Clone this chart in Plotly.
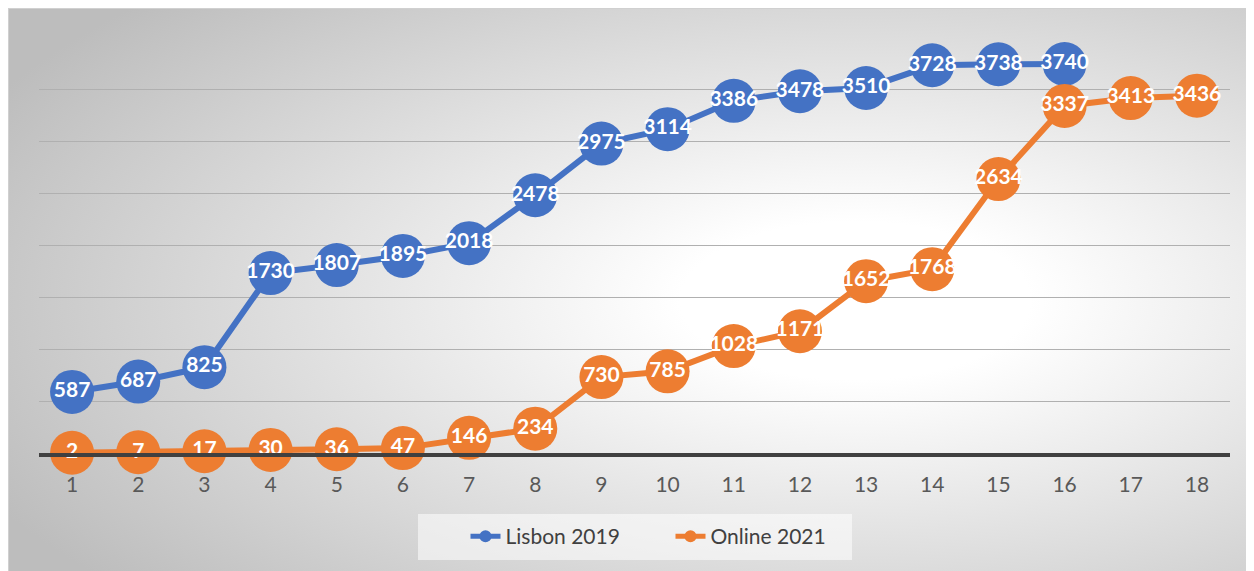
import base64
import plotly.graph_objects as go

rounds = list(range(1, 19))
lisbon_2019 = [587, 687, 825, 1730, 1807, 1895, 2018, 2478, 2975, 3114, 3386, 3478, 3510, 3728, 3738, 3740]
online_2021 = [2, 7, 17, 30, 36, 47, 146, 234, 730, 785, 1028, 1171, 1652, 1768, 2634, 3337, 3413, 3436]

BLUE = "#4472C4"
ORANGE = "#ED7D31"
FONT = "Lato, Carlito, 'Liberation Sans', sans-serif"

# page body has an 8px margin; figure origin lands at page (8, 8)
W, H = 1246, 563
ML, MR, MT, MB = 31, 24, 29, 118
PW, PH = W - ML - MR, H - MT - MB

bg_svg = """<svg xmlns='http://www.w3.org/2000/svg' width='1246' height='563' viewBox='0 0 1246 563' preserveAspectRatio='none'>
<defs><radialGradient id='g' cx='0.68' cy='0.52' r='0.78' fx='0.68' fy='0.52'>
<stop offset='0' stop-color='#ffffff'/>
<stop offset='0.18' stop-color='#ffffff'/>
<stop offset='1' stop-color='#bdbdbd'/>
</radialGradient></defs>
<rect x='0' y='0' width='1246' height='563' fill='url(#g)'/>
<rect x='0.5' y='0.5' width='1250' height='570' fill='none' stroke='#d0d0d0' stroke-width='1'/>
</svg>"""
bg_uri = "data:image/svg+xml;base64," + base64.b64encode(bg_svg.encode()).decode()

legend_svg = """<svg xmlns='http://www.w3.org/2000/svg' width='434' height='46'>
<rect x='0' y='0' width='434' height='46' fill='#ffffff' fill-opacity='0.55'/></svg>"""
legend_uri = "data:image/svg+xml;base64," + base64.b64encode(legend_svg.encode()).decode()

def px_x(p):
    return (p - 8 - ML) / PW

def px_y(p):
    return (H - MB - (p - 8)) / PH

fig = go.Figure()
fig.add_trace(go.Scatter(
    x=rounds[:len(lisbon_2019)], y=lisbon_2019, name="Lisbon 2019",
    mode="lines+markers+text", text=[str(v) for v in lisbon_2019],
    textposition="middle center",
    textfont=dict(family=FONT, size=21, color="white", weight="bold"),
    line=dict(color=BLUE, width=6),
    marker=dict(color=BLUE, size=44, line=dict(width=0)),
    cliponaxis=False,
))
fig.add_trace(go.Scatter(
    x=rounds, y=online_2021, name="Online 2021",
    mode="lines+markers+text", text=[str(v) for v in online_2021],
    textposition="middle center",
    textfont=dict(family=FONT, size=21, color="white", weight="bold"),
    line=dict(color=ORANGE, width=6),
    marker=dict(color=ORANGE, size=44, line=dict(width=0)),
    cliponaxis=False,
))

fig.update_layout(
    width=W, height=H,
    margin=dict(l=ML, r=MR, t=MT, b=MB),
    paper_bgcolor="white",
    plot_bgcolor="rgba(0,0,0,0)",
    font=dict(family=FONT, size=21, color="#595959"),
    showlegend=True,
    legend=dict(
        orientation="h", x=0.5 + 36 / PW, xanchor="center", y=px_y(516), yanchor="top",
        font=dict(family=FONT, size=21, color="#404040"),
        bgcolor="rgba(0,0,0,0)", itemsizing="constant", traceorder="normal",
        entrywidth=160,
    ),
    xaxis=dict(
        range=[0.5, 18.5], tickmode="array", tickvals=rounds,
        ticktext=[str(r) for r in rounds],
        showgrid=False, zeroline=False,
        showline=True, linecolor="#404040", linewidth=4,
        ticks="", ticklabelstandoff=10,
        tickfont=dict(family=FONT, size=21, color="#595959"),
    ),
    yaxis=dict(
        range=[0, 4000], dtick=500, tick0=0,
        showgrid=True, gridcolor="#b0b0b0", gridwidth=1,
        zeroline=False, showticklabels=False, ticks="",
    ),
    images=[
        dict(source=bg_uri, xref="paper", yref="paper",
             x=px_x(8), y=px_y(8), sizex=W / PW, sizey=H / PH,
             xanchor="left", yanchor="top", sizing="stretch", layer="below"),
        dict(source=legend_uri, xref="paper", yref="paper",
             x=px_x(418), y=px_y(514), sizex=434 / PW, sizey=46 / PH,
             xanchor="left", yanchor="top", sizing="stretch", layer="below"),
    ],
)

fig.write_html("out.html")
